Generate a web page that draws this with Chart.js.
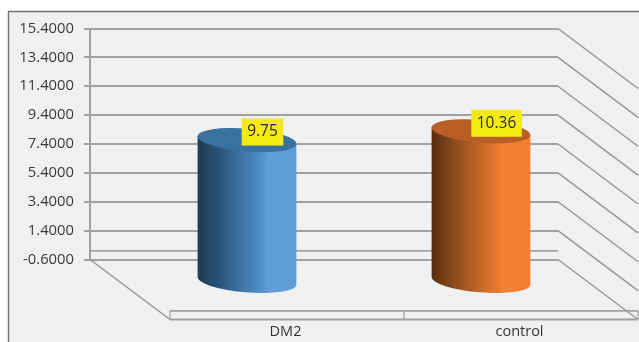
<!DOCTYPE html>
<html>
<head>
<meta charset="utf-8">
<style>
  html, body { margin: 0; padding: 0; background: #fff; }
  canvas { display: block; }
</style>
<script src="https://cdn.jsdelivr.net/npm/chart.js@4"></script>
</head>
<body>
<canvas id="chart" width="639" height="342"></canvas>
<script>
// Chart data
const categories = ['DM2', 'control'];
const values = [9.75, 10.36];
const valueLabels = ['9.75', '10.36'];
const yTicks = [-0.6, 1.4, 3.4, 5.4, 7.4, 9.4, 11.4, 13.4, 15.4];

// Cylinder shading, one palette per category
const shades = [
  { stops: ['#1f3950', '#2a5478', '#4a8ac2', '#5f9dd6', '#5f9dd6'], top: '#39719f' },
  { stops: ['#592c0e', '#8a4a1c', '#d9722b', '#f38031', '#f38031'], top: '#b95f26' }
];
const stopAt = [0, 0.22, 0.6, 0.72, 1];

// Oblique projection: the floor runs DEPTH_X / DEPTH_Y towards the viewer
const DEPTH_X = 80, DEPTH_Y = 60;
const TILT = 4.6 * Math.PI / 180, MINOR = 11.5;
const LINE = '#9fa1a3', DIAG = '#939597';

function seg(ctx, x1, y1, x2, y2) {
  ctx.beginPath();
  ctx.moveTo(x1, y1);
  ctx.lineTo(x2, y2);
  ctx.stroke();
}

const panel = {
  id: 'panel',
  beforeDraw(chart) {
    const { ctx, width, height } = chart;
    ctx.save();
    ctx.fillStyle = '#fff';
    ctx.fillRect(0, 0, width, height);
    ctx.fillStyle = '#eef0f1';
    ctx.fillRect(8, 11, width - 8, height - 11);
    ctx.strokeStyle = '#6f7173';
    ctx.lineWidth = 1.4;
    ctx.beginPath();
    ctx.moveTo(8.5, height);
    ctx.lineTo(8.5, 11.5);
    ctx.lineTo(width, 11.5);
    ctx.stroke();
    ctx.restore();
  }
};

// Side wall, floor and the zero line, all positioned from the axis scales
const frame = {
  id: 'frame',
  beforeDatasetsDraw(chart) {
    const { ctx, chartArea: a, scales: { y } } = chart;
    ctx.save();
    ctx.strokeStyle = DIAG;
    ctx.lineWidth = 1.4;
    yTicks.forEach(t => {
      const py = y.getPixelForValue(t);
      seg(ctx, a.right, py, a.right + DEPTH_X, py + DEPTH_Y);
    });
    const bottom = y.getPixelForValue(yTicks[0]);
    seg(ctx, a.left, bottom, a.left + DEPTH_X, bottom + DEPTH_Y);

    const zero = y.getPixelForValue(0);
    ctx.strokeStyle = LINE;
    ctx.lineWidth = 1.8;
    seg(ctx, a.left, zero, a.right, zero);
    seg(ctx, a.left + DEPTH_X, bottom + DEPTH_Y, a.right + DEPTH_X, bottom + DEPTH_Y);
    seg(ctx, a.left + DEPTH_X, zero + DEPTH_Y, a.right + DEPTH_X, zero + DEPTH_Y);
    ctx.lineWidth = 1.2;
    const midX = (a.left + a.right) / 2 + DEPTH_X;
    [a.left + DEPTH_X, midX, a.right + DEPTH_X].forEach(px =>
      seg(ctx, px, zero + DEPTH_Y, px, bottom + DEPTH_Y));
    ctx.restore();
  }
};

// Draws each bar element as a tilted cylinder standing mid-way across the floor
const cylinders = {
  id: 'cylinders',
  beforeDatasetDraw(chart, args) {
    const { ctx } = chart;
    args.meta.data.forEach((bar, i) => {
      const cx = bar.x + DEPTH_X / 2;
      const topY = bar.y + DEPTH_Y / 2;
      const baseY = bar.base + DEPTH_Y / 2;
      const major = bar.width / 2;
      const dx = major * Math.cos(TILT), dy = major * Math.sin(TILT);
      const shade = shades[i];

      const grad = ctx.createLinearGradient(cx - major, 0, cx + major, 0);
      shade.stops.forEach((c, k) => grad.addColorStop(stopAt[k], c));

      ctx.save();
      ctx.fillStyle = grad;
      ctx.beginPath();
      ctx.moveTo(cx - dx, topY - dy);
      ctx.lineTo(cx - dx, baseY - dy);
      ctx.ellipse(cx, baseY, major, MINOR, TILT, Math.PI, 0, true);
      ctx.lineTo(cx + dx, topY + dy);
      ctx.closePath();
      ctx.fill();

      ctx.fillStyle = shade.top;
      ctx.beginPath();
      ctx.ellipse(cx, topY, major, MINOR, TILT, 0, Math.PI * 2);
      ctx.fill();
      ctx.restore();
    });
    return false;
  },
  afterDatasetsDraw(chart) {
    const { ctx } = chart;
    chart.getDatasetMeta(0).data.forEach((bar, i) => {
      const bx = bar.x + DEPTH_X / 2 + 15.5;
      const by = bar.y + DEPTH_Y / 2 - 8;
      ctx.save();
      ctx.font = '15.5px "Open Sans"';
      const w = ctx.measureText(valueLabels[i]).width + 11;
      ctx.fillStyle = '#f3ea14';
      ctx.fillRect(bx - w / 2, by - 13.5, w, 27);
      ctx.fillStyle = '#2b2b2b';
      ctx.textAlign = 'center';
      ctx.textBaseline = 'middle';
      ctx.fillText(valueLabels[i], bx, by);
      ctx.restore();
    });
  }
};

new Chart(document.getElementById('chart'), {
  type: 'bar',
  data: {
    labels: categories,
    datasets: [{
      data: values,
      backgroundColor: ['#5f9dd6', '#f38031'],
      categoryPercentage: 1,
      barPercentage: 0.4235,
      clip: false
    }]
  },
  plugins: [panel, frame, cylinders],
  options: {
    responsive: false,
    animation: false,
    layout: { padding: { top: 28.5, right: 81, left: 0, bottom: 0 } },
    plugins: { legend: { display: false }, tooltip: { enabled: false } },
    scales: {
      x: {
        border: { display: false },
        grid: { display: false, drawTicks: false },
        afterFit(s) { s.height = 82.5; },
        ticks: {
          labelOffset: 78.5,
          padding: 64,
          maxRotation: 0,
          color: '#333',
          font: { family: '"Open Sans"', size: 14.5 }
        }
      },
      y: {
        min: yTicks[0],
        max: yTicks[yTicks.length - 1],
        afterBuildTicks(s) { s.ticks = yTicks.map(value => ({ value })); },
        afterFit(s) { s.width = 90; },
        border: { display: true, color: LINE, width: 2 },
        grid: { color: LINE, lineWidth: 2, tickLength: 6, drawTicks: true },
        ticks: {
          padding: 10,
          color: '#3a3a3a',
          font: { family: '"Open Sans"', size: 14.8 },
          callback: v => Number(v).toFixed(4)
        }
      }
    }
  }
});
</script>
</body>
</html>
